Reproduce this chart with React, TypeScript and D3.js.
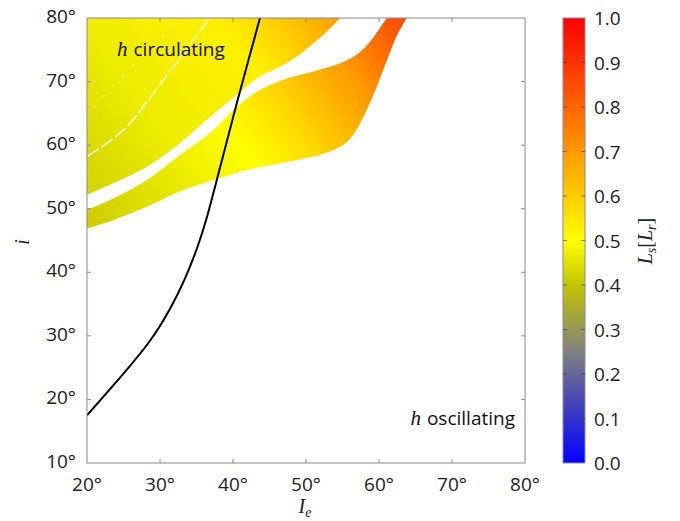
import React from "react";
import * as d3 from "d3";

// colormap of L_s (blue -> grey -> yellow -> red)
const cmapStops = [0, 0.25, 0.4, 0.5, 1];
const cmapColors = ["#0000ff", "#808080", "#c4c400", "#ffff00", "#ff0000"];

// axis ticks
const xTicks = [20, 30, 40, 50, 60, 70, 80];
const yTicks = [10, 20, 30, 40, 50, 60, 70, 80];
const cbTicks = [0, 0.1, 0.2, 0.3, 0.4, 0.5, 0.6, 0.7, 0.8, 0.9, 1.0];

// upper (circulating) band: its lower/right edge, [I_e, i]
const upperEdge: [number, number][] = [
  [20, 52.2], [23.6, 54.0], [28.2, 56.6], [32.7, 60.3], [36.4, 64.0],
  [40.5, 67.9], [43.7, 70.8], [46.4, 72.3], [48.7, 73.9], [51, 76],
  [52.8, 77.8], [54.7, 80],
];

// lower band: upper edge and lower edge
const lowerTop: [number, number][] = [
  [20, 49.8], [23.6, 51.6], [28.2, 54.5], [32.7, 58.4], [37.3, 62.4],
  [40.5, 66.0], [43.7, 68.7], [47.4, 70.5], [51, 71.6], [54.7, 72.9],
  [56.9, 74.2], [58.8, 76.3], [60.1, 78.4], [61.1, 80],
];
const lowerBottom: [number, number][] = [
  [20, 46.9], [23.6, 48.2], [28.2, 50.3], [32.7, 52.7], [37.3, 54.5],
  [41.9, 56.1], [46.4, 57.1], [51, 58.2], [53.7, 59.2], [55.6, 60.5],
  [56.9, 62.4], [58.3, 65.5], [59.7, 69.2], [61.1, 73.4], [62.4, 77.1],
  [63.8, 80],
];

// L_s along each band ([fraction along gradient, L_s])
const upperGrad = { from: [20, 50], to: [55, 80] };
const upperLs: [number, number][] = [[0, 0.42], [0.33, 0.47], [0.68, 0.53], [0.8, 0.58], [0.9, 0.64], [1, 0.69]];
const lowerGrad = { from: [20, 45], to: [64, 80] };
const lowerLs: [number, number][] = [[0, 0.41], [0.46, 0.5], [0.6, 0.57], [0.8, 0.7], [0.94, 0.82], [1, 0.86]];

// faint white gaps inside the upper band
const gapLine: [number, number][] = [[20, 58.2], [25, 62.4], [30.4, 70.2], [36.8, 80]];
const gapDots: [number, number][] = [[20.9, 66], [26.6, 72.9], [29.1, 75.5], [32.5, 80]];

// separatrix between circulation and oscillation
const separatrix: [number, number][] = [
  [20, 17.5], [24.3, 23.1], [28.9, 29.3], [31.6, 34.6], [33.4, 38.8],
  [35.2, 44], [36.5, 48.8], [37.7, 54.2], [39.1, 60.3], [40.5, 66.6],
  [42.1, 73.3], [43.7, 80],
];

const sans = "'Open Sans', sans-serif";
const serif = "'Liberation Serif', serif";

export default function App() {
  const x = d3.scaleLinear().domain([20, 80]).range([87, 525]);
  const y = d3.scaleLinear().domain([10, 80]).range([463, 18]);
  const cb = d3.scaleLinear().domain([0, 1]).range([463, 18]);
  const cmap = d3.scaleLinear<string>().domain(cmapStops).range(cmapColors).interpolate(d3.interpolateRgb);

  const smooth = d3.line<[number, number]>().x((d) => x(d[0])).y((d) => y(d[1])).curve(d3.curveCatmullRom);
  const basis = d3.line<[number, number]>().x((d) => x(d[0])).y((d) => y(d[1])).curve(d3.curveBasis);

  const upperPath = `${smooth(upperEdge)}L${x(20)},${y(80)}Z`;
  const lowerPath = `${smooth(lowerTop)}${(smooth(lowerBottom.slice().reverse()) ?? "").replace(/^M/, "L")}Z`;

  const x0 = x.range()[0], x1 = x.range()[1];
  const yTop = y.range()[1], yBot = y.range()[0];

  return (
    <svg width={680} height={521} style={{ position: "absolute", left: 0, top: 0, background: "#fff" }}>
      <defs>
        <clipPath id="plotClip">
          <rect x={x0} y={yTop} width={x1 - x0} height={yBot - yTop} />
        </clipPath>
        <linearGradient id="gUpper" gradientUnits="userSpaceOnUse"
          x1={x(upperGrad.from[0])} y1={y(upperGrad.from[1])} x2={x(upperGrad.to[0])} y2={y(upperGrad.to[1])}>
          {upperLs.map(([t, v], i) => <stop key={i} offset={t} stopColor={cmap(v)} />)}
        </linearGradient>
        <linearGradient id="gLower" gradientUnits="userSpaceOnUse"
          x1={x(lowerGrad.from[0])} y1={y(lowerGrad.from[1])} x2={x(lowerGrad.to[0])} y2={y(lowerGrad.to[1])}>
          {lowerLs.map(([t, v], i) => <stop key={i} offset={t} stopColor={cmap(v)} />)}
        </linearGradient>
        <linearGradient id="gBar" x1="0" y1="1" x2="0" y2="0">
          {cmapStops.map((v, i) => <stop key={i} offset={v} stopColor={cmapColors[i]} />)}
        </linearGradient>
      </defs>

      <g clipPath="url(#plotClip)">
        <path d={upperPath} fill="url(#gUpper)" />
        <path d={lowerPath} fill="url(#gLower)" />
        <path d={smooth(gapLine) ?? ""} fill="none" stroke="#fff" strokeWidth={1.5} strokeDasharray="14 3" opacity={0.85} />
        <path d={smooth(gapDots) ?? ""} fill="none" stroke="#fff" strokeWidth={1.2} strokeDasharray="2 12" opacity={0.7} />
        <path d={basis(separatrix) ?? ""} fill="none" stroke="#000" strokeWidth={2} />
      </g>

      {/* frame and ticks */}
      <rect x={x0} y={yTop} width={x1 - x0} height={yBot - yTop} fill="none" stroke="#8a8a9a" strokeWidth={1} />
      {xTicks.slice(1, -1).map((t) => (
        <g key={"xt" + t} stroke="#8a8a9a">
          <line x1={x(t)} x2={x(t)} y1={yBot} y2={yBot - 4} />
          <line x1={x(t)} x2={x(t)} y1={yTop} y2={yTop + 4} />
        </g>
      ))}
      {yTicks.slice(1, -1).map((t) => (
        <g key={"yt" + t} stroke="#8a8a9a">
          <line x1={x0} x2={x0 + 4} y1={y(t)} y2={y(t)} />
          <line x1={x1} x2={x1 - 4} y1={y(t)} y2={y(t)} />
        </g>
      ))}

      {xTicks.map((t) => (
        <text key={"xl" + t} x={x(t)} y={491} textAnchor="middle" fontFamily={sans} fontSize={19} fill="#222">{t}°</text>
      ))}
      {yTicks.map((t) => (
        <text key={"yl" + t} x={76} y={y(t) + 5} textAnchor="end" fontFamily={sans} fontSize={19} fill="#222">{t}°</text>
      ))}

      <text x={305} y={513} textAnchor="middle" fontFamily={serif} fontStyle="italic" fontSize={20} fill="#222">
        I<tspan fontSize={14} dy={4}>e</tspan>
      </text>
      <text transform={`translate(29,${242}) rotate(-90)`} textAnchor="middle" fontFamily={serif} fontStyle="italic" fontSize={20} fill="#222">i</text>

      <text x={117} y={56} fontSize={19} fill="#111">
        <tspan fontFamily={serif} fontStyle="italic" fontSize={21}>h</tspan>
        <tspan fontFamily={sans} dx={6}>circulating</tspan>
      </text>
      <text x={515} y={425} textAnchor="end" fontSize={19} fill="#111">
        <tspan fontFamily={serif} fontStyle="italic" fontSize={21}>h</tspan>
        <tspan fontFamily={sans} dx={6}>oscillating</tspan>
      </text>

      {/* colorbar */}
      <rect x={563} y={cb(1)} width={22} height={cb(0) - cb(1)} fill="url(#gBar)" stroke="#8a8a9a" strokeWidth={1} />
      {cbTicks.map((t) => (
        <g key={"cb" + t}>
          {t > 0 && t < 1 && (
            <g stroke="#333" strokeOpacity={0.6}>
              <line x1={563} x2={567} y1={cb(t)} y2={cb(t)} />
              <line x1={585} x2={581} y1={cb(t)} y2={cb(t)} />
            </g>
          )}
          <text x={594} y={cb(t) + 7} fontFamily={sans} fontSize={19} fill="#222">{t.toFixed(1)}</text>
        </g>
      ))}
      <text transform={`translate(652,${241}) rotate(-90)`} textAnchor="middle" fontFamily={serif} fontStyle="italic" fontSize={20} fill="#222">
        L<tspan fontSize={14} dy={4}>s</tspan><tspan fontStyle="normal" fontSize={20} dy={-4}>[</tspan>L<tspan fontSize={14} dy={4}>r</tspan><tspan fontStyle="normal" fontSize={20} dy={-4}>]</tspan>
      </text>
    </svg>
  );
}
